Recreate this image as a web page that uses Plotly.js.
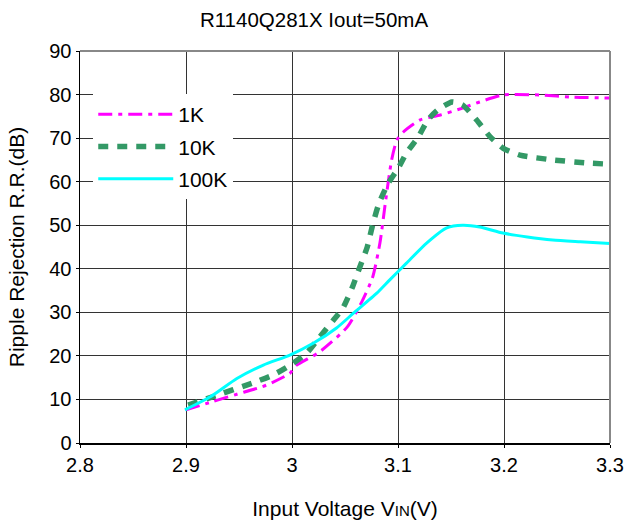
<!DOCTYPE html>
<html>
<head>
<meta charset="utf-8">
<script src="https://cdn.plot.ly/plotly-3.0.1.min.js"></script>
<style>html,body{margin:0;padding:0;background:#fff;}#chart{width:628px;height:524px;}</style>
</head>
<body>
<div id="chart"></div>
<script>
const seriesNames = ["1K", "10K", "100K"];

const x1K = [2.9, 2.925, 2.948, 2.975, 2.998, 3.004, 3.026, 3.052, 3.065, 3.076, 3.083, 3.088, 3.094, 3.099, 3.105, 3.121, 3.14, 3.161, 3.177, 3.199, 3.234, 3.265, 3.3];
const y1K = [7.6, 9.5, 11.2, 13.2, 16.0, 17.8, 20.9, 26.6, 32.0, 38.0, 46.0, 55.0, 65.0, 69.6, 71.4, 74.2, 75.3, 76.9, 78.3, 79.9, 79.9, 79.4, 79.2];

const x10K = [2.902, 2.925, 2.963, 2.982, 2.996, 3.014, 3.026, 3.039, 3.048, 3.057, 3.064, 3.071, 3.076, 3.082, 3.091, 3.1, 3.108, 3.119, 3.128, 3.137, 3.151, 3.161, 3.174, 3.187, 3.199, 3.215, 3.246, 3.278, 3.3];
const y10K = [8.7, 10.6, 13.8, 15.6, 17.5, 20.7, 24.3, 28.2, 31.0, 35.8, 40.4, 45.0, 50.0, 55.0, 59.7, 63.0, 66.6, 70.2, 74.1, 76.4, 78.3, 77.6, 74.2, 70.3, 67.7, 66.1, 65.0, 64.3, 64.0];

const x100K = [2.899, 2.923, 2.948, 2.973, 2.998, 3.02, 3.042, 3.058, 3.08, 3.092, 3.108, 3.127, 3.146, 3.161, 3.177, 3.199, 3.222, 3.246, 3.272, 3.3];
const y100K = [7.6, 10.6, 14.8, 17.9, 20.2, 22.9, 26.4, 29.8, 34.4, 37.4, 41.3, 45.9, 49.4, 50.0, 49.6, 48.2, 47.3, 46.6, 46.2, 45.8];

const xTicks = [2.8, 2.9, 3.0, 3.1, 3.2, 3.3];
const yTicks = [0, 10, 20, 30, 40, 50, 60, 70, 80, 90];

const FONT = "Liberation Sans, Arial, sans-serif";

const traces = [
  {x: x1K, y: y1K, name: seriesNames[0], mode: "lines", legendgroup: "a",
   line: {color: "#ff00ff", width: 3, dash: "14px,6px,4px,6px", shape: "spline", smoothing: 0.6}},
  {x: x10K, y: y10K, name: seriesNames[1], mode: "lines", legendgroup: "b",
   line: {color: "#339966", width: 5.5, dash: "10px,9px", shape: "spline", smoothing: 0.6}},
  {x: x100K, y: y100K, name: seriesNames[2], mode: "lines", legendgroup: "c",
   line: {color: "#00ffff", width: 3, shape: "spline", smoothing: 0.6}}
];

const layout = {
  width: 628, height: 524,
  margin: {l: 80, r: 18, t: 51, b: 81},
  paper_bgcolor: "#fff", plot_bgcolor: "#fff",
  font: {family: FONT, size: 20, color: "#000"},
  title: {text: "R1140Q281X Iout=50mA", font: {family: FONT, size: 20.5, color: "#000"}, x: 0.5, xanchor: "center", y: 0.962, yanchor: "middle"},
  xaxis: {
    range: [2.8, 3.3], tickvals: xTicks, ticktext: xTicks.map(v => String(v)),
    showgrid: true, gridcolor: "#333", gridwidth: 1, zeroline: false,
    showline: true, linecolor: "#000", linewidth: 1.5,
    ticks: "outside", ticklen: 3, tickcolor: "#000",
    tickfont: {family: FONT, size: 20, color: "#000"},
    title: {text: "Input Voltage V<span style='font-size:15px'>IN</span>(V)", font: {family: FONT, size: 21, color: "#000"}, standoff: 27},
    fixedrange: true
  },
  yaxis: {
    range: [0, 90], tickvals: yTicks,
    showgrid: true, gridcolor: "#333", gridwidth: 1, zeroline: false,
    showline: true, linecolor: "#000", linewidth: 1.5,
    ticks: "outside", ticklen: 3, tickcolor: "#000",
    tickfont: {family: FONT, size: 20, color: "#000"},
    title: {text: "Ripple Rejection R.R.(dB)", font: {family: FONT, size: 21, color: "#000"}, standoff: 19},
    fixedrange: true
  },
  shapes: [
    {type: "line", xref: "paper", yref: "paper", x0: 0, x1: 1, y0: 1, y1: 1, line: {color: "#888", width: 2}},
    {type: "line", xref: "paper", yref: "paper", x0: 1, x1: 1, y0: 0, y1: 1, line: {color: "#888", width: 2}}
  ],
  showlegend: true,
  legend: {
    x: 0.025, y: 0.89, xanchor: "left", yanchor: "top",
    bgcolor: "#fff", borderwidth: 0,
    font: {family: FONT, size: 21, color: "#000"},
    traceorder: "grouped", tracegroupgap: 2, itemwidth: 75
  }
};

Plotly.newPlot("chart", traces, layout, {displayModeBar: false, staticPlot: true});
</script>
</body>
</html>
